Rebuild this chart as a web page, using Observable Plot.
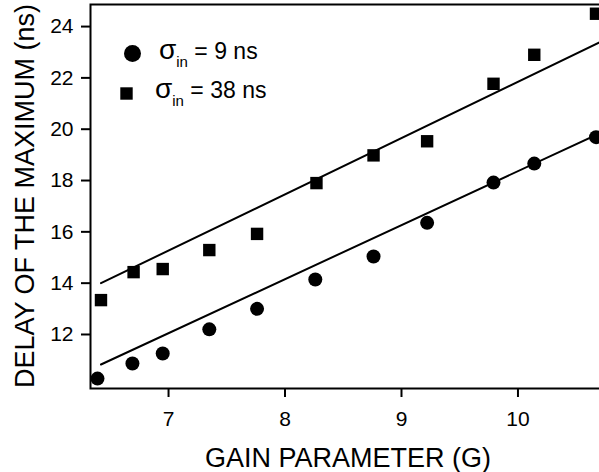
<!DOCTYPE html>
<html>
<head>
<meta charset="utf-8">
<script src="https://cdn.jsdelivr.net/npm/d3@7"></script>
<script src="https://cdn.jsdelivr.net/npm/@observablehq/plot@0.6"></script>
<style>
  html, body { margin: 0; padding: 0; background: #fff; }
  svg { display: block; }
</style>
</head>
<body>
<div id="chart"></div>
<script>
// Data
const gain9 = [6.39, 6.69, 6.95, 7.35, 7.76, 8.26, 8.76, 9.22, 9.79, 10.14, 10.67];
const delay9 = [10.28, 10.87, 11.26, 12.2, 13.0, 14.14, 15.04, 16.35, 17.92, 18.66, 19.69];
const gain38 = [6.42, 6.70, 6.95, 7.35, 7.76, 8.27, 8.76, 9.22, 9.79, 10.14, 10.67];
const delay38 = [13.34, 14.43, 14.55, 15.29, 15.92, 17.9, 18.98, 19.53, 21.77, 22.9, 24.5];
const fitX = [6.42, 10.70];
const fit9Y = [10.83, 19.84];
const fit38Y = [14.0, 23.38];
const xTicks = [7, 8, 9, 10];
const yTicks = [12, 14, 16, 18, 20, 22, 24];
const xLabel = "GAIN PARAMETER (G)";
const yLabel = "DELAY OF THE MAXIMUM (ns)";
const legendLabels = ["9 ns", "38 ns"];

const pts9 = gain9.map((g, i) => ({x: g, y: delay9[i]}));
const pts38 = gain38.map((g, i) => ({x: g, y: delay38[i]}));
const fit9 = fitX.map((g, i) => ({x: g, y: fit9Y[i]}));
const fit38 = fitX.map((g, i) => ({x: g, y: fit38Y[i]}));

const font = "'Liberation Sans', Arial, Helvetica, sans-serif";

const chart = Plot.plot({
  width: 599,
  height: 472,
  marginLeft: 90,
  marginRight: 0,
  marginTop: 4,
  marginBottom: 84,
  style: {fontFamily: font, fontSize: "21px", color: "#000", background: "#fff"},
  x: {domain: [6.33, 10.70], ticks: xTicks, tickFormat: d3.format("d"), tickSize: 9, tickPadding: 14, label: null},
  y: {domain: [9.895, 24.86], ticks: yTicks, tickFormat: d3.format("d"), tickSize: 9, tickPadding: 8, label: null},
  marks: [
    Plot.frame({stroke: "#000", strokeWidth: 2, insetRight: -6}),
    Plot.line(fit9, {x: "x", y: "y", stroke: "#000", strokeWidth: 2}),
    Plot.line(fit38, {x: "x", y: "y", stroke: "#000", strokeWidth: 2}),
    Plot.dot(pts9, {x: "x", y: "y", r: 7, fill: "#000", stroke: "none"}),
    Plot.dot(pts38, {x: "x", y: "y", r: 7, symbol: "square", fill: "#000", stroke: "none"}),
    Plot.dot([0], {frameAnchor: "top-left", dx: 42, dy: 49, r: 8.5, fill: "#000", stroke: "none"}),
    Plot.dot([0], {frameAnchor: "top-left", dx: 36, dy: 89, r: 7, symbol: "square", fill: "#000", stroke: "none"})
  ]
});

const svg = d3.select(chart);
svg.selectAll("[aria-label='x-axis tick'], [aria-label='y-axis tick']").attr("stroke-width", 2);

svg.append("text")
  .attr("x", 348).attr("y", 467)
  .attr("text-anchor", "middle")
  .attr("font-family", font).attr("font-size", 27).attr("fill", "#000")
  .text(xLabel);
svg.append("text")
  .attr("transform", "translate(34,196) rotate(-90)")
  .attr("text-anchor", "middle")
  .attr("font-family", font).attr("font-size", 27).attr("fill", "#000")
  .text(yLabel);

const legY = [59, 98];
const legX = [159, 155];
legendLabels.forEach((lab, i) => {
  const t = svg.append("text")
    .attr("x", legX[i]).attr("y", legY[i])
    .attr("text-anchor", "start")
    .attr("font-family", font).attr("font-size", 23).attr("fill", "#000");
  t.append("tspan").attr("font-size", 28).text("σ");
  t.append("tspan").attr("font-size", 15).attr("dy", 8).text("in");
  t.append("tspan").attr("dy", -8).text(" = " + lab);
});

document.getElementById("chart").appendChild(chart);
</script>
</body>
</html>
